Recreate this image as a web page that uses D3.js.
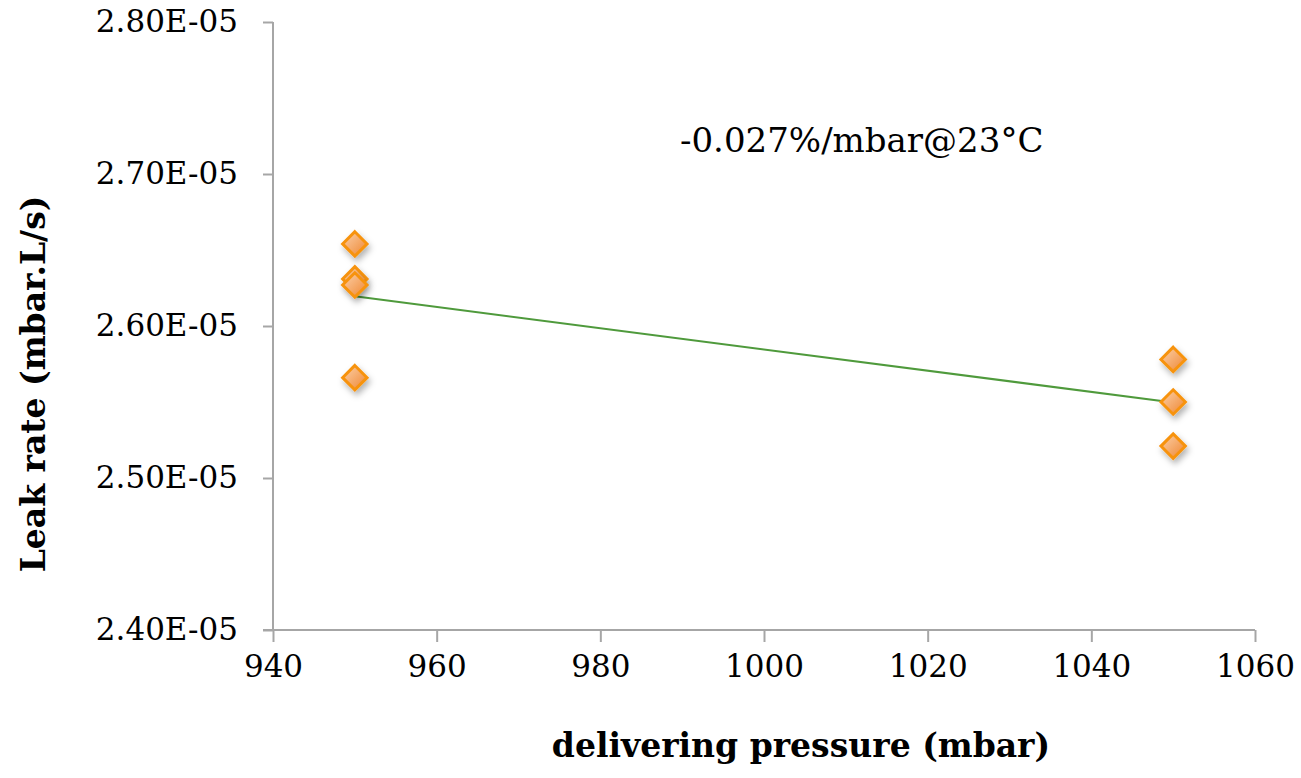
<!DOCTYPE html>
<html>
<head>
<meta charset="utf-8">
<script src="https://cdn.jsdelivr.net/npm/d3@7"></script>
<style>
  body { margin: 0; background: #fff; }
  text { font-family: "DejaVu Serif", "Liberation Serif", serif; fill: #000; }
</style>
</head>
<body>
<div id="chart"></div>
<script>
// data
const pressure = [950, 950, 950, 950, 1050, 1050, 1050];
const leakRate = [2.654e-5, 2.631e-5, 2.627e-5, 2.566e-5, 2.578e-5, 2.550e-5, 2.521e-5];
const xTicks = [940, 960, 980, 1000, 1020, 1040, 1060];
const yTicks = [2.40e-5, 2.50e-5, 2.60e-5, 2.70e-5, 2.80e-5];
const yTickLabels = ["2.40E-05", "2.50E-05", "2.60E-05", "2.70E-05", "2.80E-05"];
const note = "-0.027%/mbar@23°C";

const width = 1301, height = 778;
const margin = { top: 22, right: 46, bottom: 148, left: 273 };

const svg = d3.select("#chart").append("svg")
  .attr("width", width)
  .attr("height", height);

const defs = svg.append("defs");
const grad = defs.append("linearGradient")
  .attr("id", "dia").attr("x1", "0").attr("y1", "0").attr("x2", "1").attr("y2", "1");
grad.append("stop").attr("offset", "0%").attr("stop-color", "#fcd2ab");
grad.append("stop").attr("offset", "100%").attr("stop-color", "#ee8530");

const shadow = defs.append("filter").attr("id", "shadow")
  .attr("x", "-50%").attr("y", "-50%").attr("width", "200%").attr("height", "200%");
shadow.append("feDropShadow")
  .attr("dx", 2).attr("dy", 4).attr("stdDeviation", 3)
  .attr("flood-color", "#000").attr("flood-opacity", 0.3);

const x = d3.scaleLinear().domain([940, 1060]).range([margin.left, width - margin.right]);
const y = d3.scaleLinear().domain([2.40e-5, 2.80e-5]).range([height - margin.bottom, margin.top]);

// axes
const xAxis = svg.append("g")
  .attr("transform", `translate(0,${y(2.40e-5)})`)
  .call(d3.axisBottom(x).tickValues(xTicks).tickFormat(d3.format("d")).tickSize(12).tickPadding(13));

const yAxis = svg.append("g")
  .attr("transform", `translate(${x(940)},0)`)
  .call(d3.axisLeft(y).tickValues(yTicks).tickFormat((d, i) => yTickLabels[i]).tickSize(10).tickPadding(25));

[xAxis, yAxis].forEach(g => {
  g.select(".domain").attr("stroke", "#a6a6a6").attr("stroke-width", 2);
  g.selectAll(".tick line").attr("stroke", "#a6a6a6").attr("stroke-width", 2);
  g.selectAll(".tick text").style("font-size", "31px")
    .style("font-family", "'DejaVu Serif', serif").attr("fill", "#000");
});
// x axis line runs under the bottom y tick
xAxis.select(".domain").attr("d", `M${x(940) - 10},0H${x(1060)}`);
xAxis.selectAll(".tick text").attr("dy", "0.71em");
yAxis.select(".domain").attr("d", `M0,${y(2.80e-5)}V${y(2.40e-5)}`);

// least squares trend line
const n = pressure.length;
const mx = d3.mean(pressure), my = d3.mean(leakRate);
let sxy = 0, sxx = 0;
for (let i = 0; i < n; i++) {
  sxy += (pressure[i] - mx) * (leakRate[i] - my);
  sxx += (pressure[i] - mx) ** 2;
}
const slope = sxy / sxx, icpt = my - slope * mx;
const xr = d3.extent(pressure);

svg.append("line")
  .attr("x1", x(xr[0])).attr("y1", y(icpt + slope * xr[0]))
  .attr("x2", x(xr[1])).attr("y2", y(icpt + slope * xr[1]))
  .attr("stroke", "#4f9a3c").attr("stroke-width", 2);

// diamond markers
const dia = d3.symbol().type(d3.symbolDiamond2).size(380);
svg.selectAll(".pt").data(pressure.map((p, i) => [p, leakRate[i]]))
  .join("path")
  .attr("class", "pt")
  .attr("d", dia)
  .attr("transform", d => `translate(${x(d[0])},${y(d[1])})`)
  .attr("fill", "url(#dia)")
  .attr("stroke", "#f7930f")
  .attr("stroke-width", 3)
  .attr("filter", "url(#shadow)");

// annotation
svg.append("text")
  .attr("x", 680).attr("y", 152)
  .style("font-size", "34px")
  .text(note);

// axis titles
svg.append("text")
  .attr("x", 801).attr("y", 757)
  .attr("text-anchor", "middle")
  .style("font-size", "33px").style("font-weight", "bold")
  .text("delivering pressure (mbar)");

svg.append("text")
  .attr("transform", `translate(45,384) rotate(-90)`)
  .attr("text-anchor", "middle")
  .style("font-size", "33px").style("font-weight", "bold")
  .text("Leak rate (mbar.L/s)");
</script>
</body>
</html>
